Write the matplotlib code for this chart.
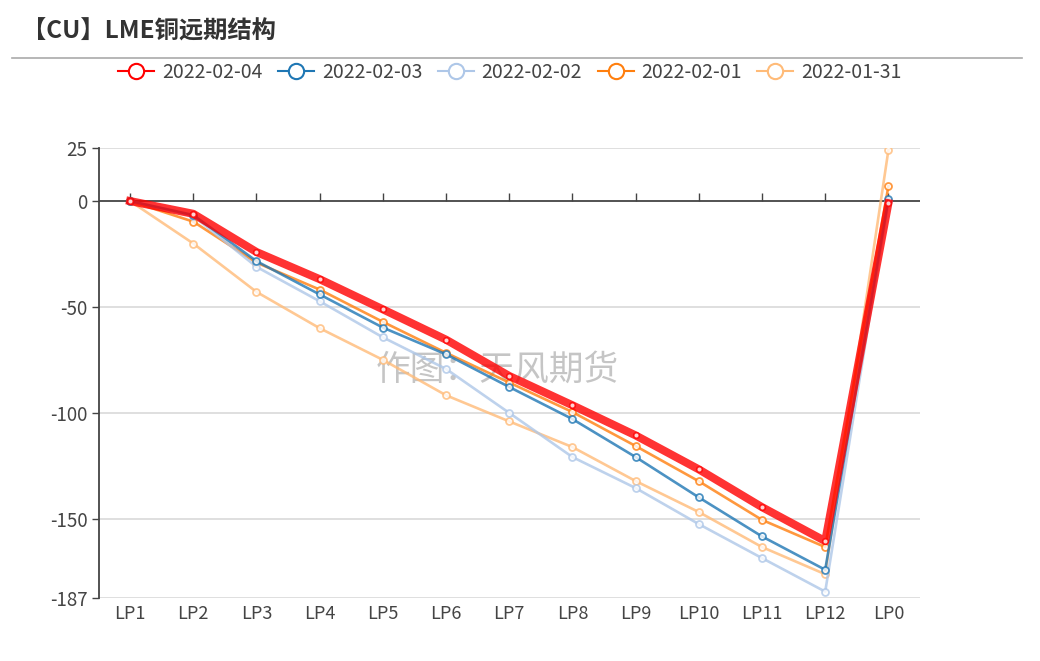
import matplotlib
matplotlib.use("Agg")
import matplotlib.pyplot as plt
from matplotlib.lines import Line2D
import numpy as np

plt.rcParams["font.family"] = ["Noto Sans CJK SC", "DejaVu Sans"]

CATEGORIES = ["LP1", "LP2", "LP3", "LP4", "LP5", "LP6", "LP7", "LP8", "LP9", "LP10", "LP11", "LP12", "LP0"]
SERIES_NAMES = ["2022-02-04", "2022-02-03", "2022-02-02", "2022-02-01", "2022-01-31"]
COLORS = ["#ff0000", "#1f77b4", "#aec7e8", "#ff7f0e", "#ffbb78"]

VAL_0204 = [0, -6, -24, -36.8, -51, -65.3, -82.4, -96.2, -110.4, -126.4, -144.2, -160.2, -1]
VAL_0203 = [0, -6.6, -28.3, -44, -59.6, -72.2, -87.6, -102.7, -120.6, -139.6, -158, -173.7, 1]
VAL_0202 = [0, -7, -31, -47.2, -64.2, -79.1, -99.8, -120.6, -135.2, -152.2, -168.2, -184, 0]
VAL_0201 = [0, -9.7, -29, -41.7, -56.9, -71.5, -85.5, -99.4, -115.4, -132, -150.2, -163, 7]
VAL_0131 = [0, -20, -42.8, -59.9, -74.8, -91.5, -103.8, -115.9, -131.9, -146.5, -163, -175.8, 24]

Y_TICKS = [25, 0, -50, -100, -150, -187]

fig = plt.figure(figsize=(10.4, 6.61), dpi=100)
ax = fig.add_axes([98.5 / 1040, 63 / 661, (920 - 98.5) / 1040, 450 / 661])

x = np.arange(len(CATEGORIES))
series = [VAL_0204, VAL_0203, VAL_0202, VAL_0201, VAL_0131]

for i in range(len(series) - 1, -1, -1):
    if i == 0:
        ax.plot(x, series[i], color=COLORS[i], lw=5.8, alpha=0.8, zorder=10,
                marker="o", ms=4, mfc="white", mec=COLORS[i], mew=1.2)
    else:
        ax.plot(x, series[i], color=COLORS[i], lw=1.9, alpha=0.8, zorder=5 + (5 - i),
                marker="o", ms=5, mfc="white", mec=COLORS[i], mew=1.3)

ax.set_xlim(-0.5, len(CATEGORIES) - 0.5)
ax.set_ylim(-187, 25)

for v in [25, -50, -100, -150, -187]:
    ax.axhline(v, color="#d9d9d9", lw=1.2, zorder=1)
ax.axhline(0, color="#444444", lw=1.3, zorder=2)

for sp in ["top", "right", "bottom"]:
    ax.spines[sp].set_visible(False)
ax.spines["left"].set_color("#444444")
ax.spines["left"].set_linewidth(1.3)

ax.set_yticks(Y_TICKS)
ax.set_yticklabels([str(v) for v in Y_TICKS])
ax.tick_params(axis="y", length=5, width=1, color="#444444", labelcolor="#444444", labelsize=13.5, pad=3)

ax.set_xticks(x)
ax.set_xticklabels(CATEGORIES)
ax.tick_params(axis="x", length=0, labelcolor="#444444", labelsize=13, pad=5)

zero_axis = ax.secondary_xaxis(187 / 212)
zero_axis.set_xticks(x)
zero_axis.set_xticklabels([])
zero_axis.tick_params(axis="x", direction="out", length=6, width=1, color="#444444")
for sp in zero_axis.spines.values():
    sp.set_visible(False)

# watermark sits under the lines
ax.text(497 / 1040, 1 - 370 / 661, "作图：天风期货", transform=fig.transFigure, fontsize=25,
        color="#bfbfbf", ha="center", va="center", alpha=0.9, zorder=0)

fig.text(22 / 1040, 1 - 32 / 661, "【CU】LME铜远期结构", fontsize=17.5, fontweight="bold",
         color="#333333", ha="left", va="center")
fig.add_artist(Line2D([12 / 1040, 1022 / 1040], [1 - 57.5 / 661, 1 - 57.5 / 661],
                      color="#aaaaaa", lw=1.2))

handles = [Line2D([0], [0], color=c, lw=1.5, marker="o", ms=11, mfc="white", mec=c, mew=1.5)
           for c in COLORS]
fig.legend(handles, SERIES_NAMES, loc="center", bbox_to_anchor=(510 / 1040, 1 - 72 / 661),
           ncol=5, frameon=False, fontsize=14, handlelength=1.85, handletextpad=0.4,
           columnspacing=0.8, labelcolor="#444444")

fig.savefig("out.png", dpi=100)
